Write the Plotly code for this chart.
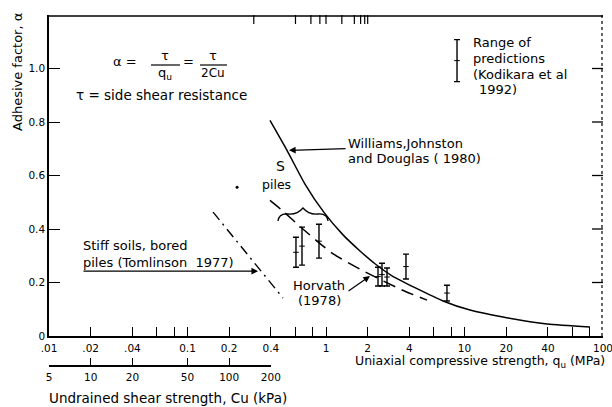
import numpy as np
import plotly.graph_objects as go

# ---------------- data ----------------
# Williams, Johnston and Douglas (1980) - solid curve
qu_williams = [0.394, 0.523, 0.705, 0.967, 1.327, 1.76, 2.258, 2.996, 7.0, 10.96, 18.97, 39.4, 80.5]
alpha_williams = [0.806, 0.694, 0.568, 0.462, 0.378, 0.318, 0.270, 0.225, 0.131, 0.097, 0.071, 0.045, 0.034]

# Horvath (1978) - long dashed curve
qu_horvath = [0.394, 0.481, 0.671, 1.105, 1.819, 3.54, 5.36]
alpha_horvath = [0.507, 0.470, 0.403, 0.310, 0.246, 0.172, 0.134]

# Stiff soils, bored piles (Tomlinson 1977) - dash-dot line
qu_tomlinson = [0.153, 0.489]
alpha_tomlinson = [0.463, 0.142]

# isolated dot
qu_dot = [0.228]
alpha_dot = [0.556]

# Range of predictions (Kodikara et al 1992)
qu_range = [0.607, 0.671, 0.890, 2.374, 2.537, 2.757, 3.78, 7.47]
alpha_low = [0.257, 0.265, 0.291, 0.187, 0.187, 0.187, 0.213, 0.131]
alpha_high = [0.369, 0.407, 0.418, 0.257, 0.272, 0.254, 0.306, 0.190]

# legend sample bar
qu_legend = [8.83]
alpha_legend_low = [0.951]
alpha_legend_high = [1.108]

# axis ticks
qu_tickvals = [0.01, 0.02, 0.04, 0.06, 0.08, 0.1, 0.2, 0.4, 0.6, 0.8,
               1, 2, 4, 6, 8, 10, 20, 40, 60, 80, 100]
qu_ticktext = [".01", ".02", ".04", " ", " ", "0.1", "0.2", "0.4", " ", " ",
               "1", "2", "4", " ", " ", "10", "20", "40", " ", " ", "100"]
cu_tickvals = [5, 10, 20, 50, 100, 200]
cu_ticktext = ["5", "10", "20", "50", "100", "200"]
alpha_tickvals = [0, 0.2, 0.4, 0.6, 0.8, 1.0]
alpha_ticktext = ["0", "0.2", "0.4", "0.6", "0.8", "1.0"]
QU_RANGE = [0.01, 100]
ALPHA_RANGE = [0, 1.2]

# ---------------- layout geometry ----------------
W, H = 612, 407
ML, MR, MT, MB = 49, 9, 15, 42
PW = W - ML - MR
PH = H - MT - MB
AXIS_BOTTOM = 336
ydom0 = (H - MB - AXIS_BOTTOM) / PH
FONT = "DejaVu Sans"


def px(x):
    return (x - ML) / PW


def py(y):
    return (H - MB - y) / PH


fig = go.Figure()

fig.add_trace(go.Scatter(x=qu_williams, y=alpha_williams, mode="lines",
                         line=dict(color="black", width=1.5, shape="spline", smoothing=0.6),
                         hoverinfo="skip"))
fig.add_trace(go.Scatter(x=qu_horvath, y=alpha_horvath, mode="lines",
                         line=dict(color="black", width=1.5, dash="13px,7px", shape="spline", smoothing=0.6),
                         hoverinfo="skip"))
fig.add_trace(go.Scatter(x=qu_tomlinson, y=alpha_tomlinson, mode="lines",
                         line=dict(color="black", width=1.4, dash="10px,5px,2px,5px"),
                         hoverinfo="skip"))
fig.add_trace(go.Scatter(x=qu_dot, y=alpha_dot, mode="markers",
                         marker=dict(color="black", size=3), hoverinfo="skip"))


def range_trace(xs, lo, hi):
    lo = np.array(lo)
    hi = np.array(hi)
    mid = (lo + hi) / 2
    half = (hi - lo) / 2
    return go.Scatter(x=xs, y=mid, mode="markers",
                      marker=dict(symbol="line-ew-open", size=4, color="black",
                                  line=dict(color="black", width=1)),
                      error_y=dict(type="data", symmetric=True, array=half,
                                   color="black", thickness=1.4, width=3),
                      hoverinfo="skip")


fig.add_trace(range_trace(qu_range, alpha_low, alpha_high))
fig.add_trace(range_trace(qu_legend, alpha_legend_low, alpha_legend_high))

# invisible carrier for the secondary (Cu) axis
fig.add_trace(go.Scatter(x=[cu_tickvals[0], cu_tickvals[-1]], y=[0, 0], xaxis="x2", yaxis="y2",
                         mode="markers", marker=dict(opacity=0), hoverinfo="skip"))

axis_common = dict(showgrid=False, zeroline=False, showline=True, linecolor="black",
                   linewidth=1.5, ticks="inside", tickcolor="black", tickwidth=1.2,
                   automargin=False, ticklabeloverflow="allow", tickangle=0,
                   tickfont=dict(family=FONT, size=10.5, color="black"))

fig.update_layout(
    template="none",
    width=W, height=H,
    margin=dict(l=ML, r=MR, t=MT, b=MB, autoexpand=False),
    paper_bgcolor="white", plot_bgcolor="rgba(0,0,0,0)",
    showlegend=False,
    font=dict(family=FONT, color="black"),
    xaxis=dict(type="log", range=np.log10(QU_RANGE).tolist(), tickvals=qu_tickvals,
               ticktext=qu_ticktext, ticklen=9, anchor="y", ticklabelstandoff=2, **axis_common),
    yaxis=dict(range=ALPHA_RANGE, domain=[ydom0, 1], tickvals=alpha_tickvals,
               ticktext=alpha_ticktext, ticklen=11, anchor="x", **axis_common),
    xaxis2=dict(type="log", range=[np.log10(cu_tickvals[0]), np.log10(cu_tickvals[-1])],
                domain=[0, (np.log10(0.4) + 2) / 4], anchor="y2",
                tickvals=cu_tickvals, ticktext=cu_ticktext, ticklen=7,
                ticklabelstandoff=2, **axis_common),
    yaxis2=dict(domain=[0, 0.02], anchor="x2", visible=False, range=[0, 1]),
)

ann = []


def text(x, y, t, size=13, xanchor="center", yanchor="middle", align="center", angle=0):
    ann.append(dict(x=px(x), y=py(y), xref="paper", yref="paper", text=t, showarrow=False,
                    xanchor=xanchor, yanchor=yanchor, align=align, textangle=angle,
                    font=dict(family=FONT, size=size, color="black")))


# formula
text(125, 62, "α =", size=13)
text(165, 56, "τ", size=13)
text(165, 73, "q<sub>u</sub>", size=13)
text(188, 62, "=", size=13)
text(213, 56, "τ", size=13)
text(213, 73, "2Cu", size=12)
text(74, 95, "τ = side shear resistance", size=13.5, xanchor="left")

# legend text
text(471, 43, "Range of", xanchor="left")
text(471, 59, "predictions", xanchor="left")
text(471, 74, "(Kodikara et al", xanchor="left")
text(477, 89, "1992)", xanchor="left")

# curve labels
text(346, 143, "Williams,Johnston", xanchor="left")
text(346, 158, "and Douglas ( 1980)", xanchor="left")
text(280, 166, "S", size=14)
text(276, 184, "piles", size=12.5)
text(81, 246, "Stiff soils, bored", xanchor="left")
text(81, 262, "piles (Tomlinson  1977)", xanchor="left")
text(319, 285, "Horvath")
text(319, 300, "(1978)")

# axis titles
text(18, 72, "Adhesive factor, α", size=13, angle=-90)
text(353, 361, "Uniaxial compressive strength, q<sub>u</sub> (MPa)", size=12.5, xanchor="left")
text(47, 398, "Undrained shear strength, Cu (kPa)", size=13.5, xanchor="left")


# arrows (data coordinates, log10 for the log axis)
def arrow(head_q, head_a, tail_q, tail_a):
    ann.append(dict(x=np.log10(head_q), y=head_a, ax=np.log10(tail_q), ay=tail_a,
                    xref="x", yref="y", axref="x", ayref="y", showarrow=True,
                    arrowhead=2, arrowsize=1.1, arrowwidth=1.2, arrowcolor="black",
                    standoff=0, text=""))


arrow(0.541, 0.694, 1.418, 0.701)    # Williams
arrow(0.323, 0.2425, 0.0173, 0.2425)  # Tomlinson
arrow(2.078, 0.224, 1.418, 0.164)    # Horvath

fig.update_layout(annotations=ann)

shapes = []
# frame: top solid, right dotted (drawn 1px inside the plot edge)
shapes.append(dict(type="line", xref="paper", yref="paper", x0=0, x1=1,
                   y0=1 - 1 / PH, y1=1 - 1 / PH, layer="above",
                   line=dict(color="black", width=1.3)))
shapes.append(dict(type="line", xref="paper", yref="paper", x0=1 - 1 / PW, x1=1 - 1 / PW,
                   y0=ydom0, y1=1, layer="above",
                   line=dict(color="black", width=1.2, dash="dot")))
# mirrored ticks on top and right, placed through the axes' own scales
for v in qu_tickvals:
    shapes.append(dict(type="line", xref="x", yref="paper", x0=np.log10(v), x1=np.log10(v),
                       y0=1, y1=1 - 9 / PH, line=dict(color="black", width=1.2)))
for v in alpha_tickvals[1:]:
    shapes.append(dict(type="line", xref="paper", yref="y", x0=1, x1=1 - 11 / PW,
                       y0=v, y1=v, line=dict(color="black", width=1.3)))

# fraction bars
for x0, x1 in [(151, 180), (200, 227)]:
    shapes.append(dict(type="line", xref="paper", yref="paper", x0=px(x0), x1=px(x1),
                       y0=py(65), y1=py(65), line=dict(color="black", width=1.2)))

# curly brace over the S-pile bars
bp = [(278, 221), (279, 213), (288, 214), (297, 215), (303, 208),
      (309, 215), (318, 214), (327, 213), (328, 221)]
path = "M {:.4f},{:.4f}".format(px(bp[0][0]), py(bp[0][1]))
for i in range(1, len(bp), 2):
    path += " Q {:.4f},{:.4f} {:.4f},{:.4f}".format(px(bp[i][0]), py(bp[i][1]),
                                                     px(bp[i + 1][0]), py(bp[i + 1][1]))
shapes.append(dict(type="path", xref="paper", yref="paper", path=path,
                   line=dict(color="black", width=1.3)))

fig.update_layout(shapes=shapes)

fig.write_html("out.html", config={"displayModeBar": False},
               post_script="document.body.style.margin='0';document.body.style.padding='0';")
